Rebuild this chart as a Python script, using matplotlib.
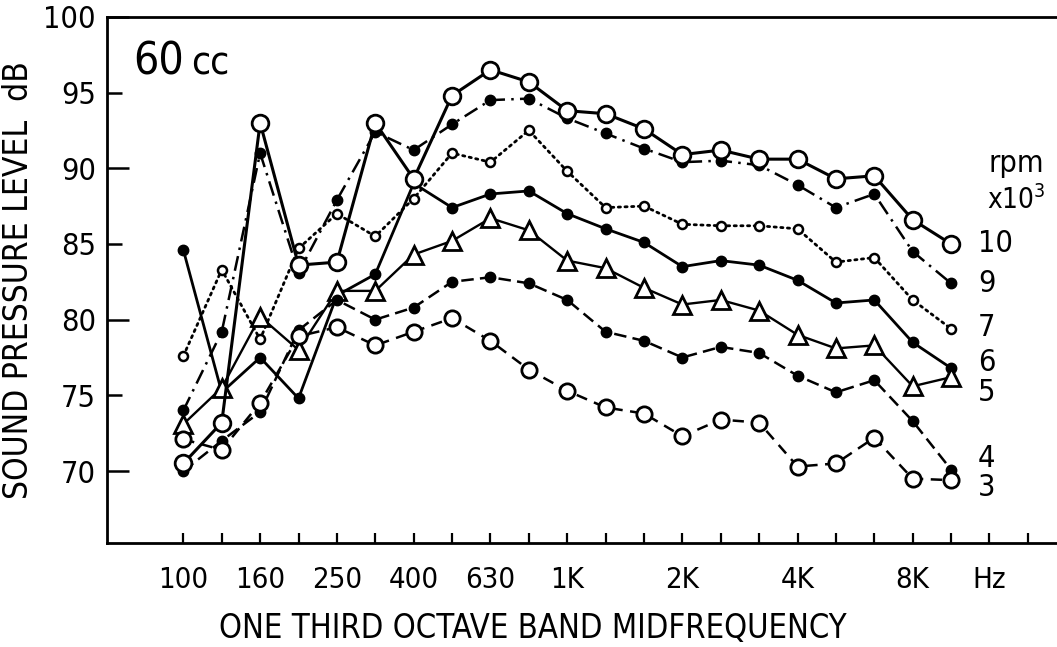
import numpy as np
import matplotlib
matplotlib.use("Agg")
import matplotlib.pyplot as plt

plt.rcParams['font.family'] = ['DejaVu Sans']
plt.rcParams['font.stretch'] = 'condensed'

# one third octave bands, 100 Hz .. 10 kHz
freqs = [100, 125, 160, 200, 250, 315, 400, 500, 630, 800, 1000,
         1250, 1600, 2000, 2500, 3150, 4000, 5000, 6300, 8000, 10000]
x = np.arange(len(freqs))

# sound pressure level (dB) per rpm x 10^3
spl_10 = [70.5, 73.2, 93.0, 83.6, 83.8, 93.0, 89.3, 94.8, 96.5, 95.7, 93.8,
          93.6, 92.6, 90.9, 91.2, 90.6, 90.6, 89.3, 89.5, 86.6, 85.0]
spl_9 = [74.0, 79.2, 91.0, 83.1, 87.9, 92.4, 91.2, 92.9, 94.5, 94.6, 93.3,
         92.3, 91.3, 90.4, 90.5, 90.2, 88.9, 87.4, 88.3, 84.5, 82.4]
spl_7 = [77.6, 83.3, 78.7, 84.7, 87.0, 85.5, 88.0, 91.0, 90.4, 92.5, 89.8,
         87.4, 87.5, 86.3, 86.2, 86.2, 86.0, 83.8, 84.1, 81.3, 79.4]
spl_6 = [84.6, 75.2, 77.5, 74.8, 81.6, 83.0, 89.0, 87.4, 88.3, 88.5, 87.0,
         86.0, 85.1, 83.5, 83.9, 83.6, 82.6, 81.1, 81.3, 78.5, 76.8]
spl_5 = [73.1, 75.5, 80.2, 78.0, 81.9, 81.9, 84.3, 85.2, 86.7, 85.9, 83.9,
         83.4, 82.1, 81.0, 81.3, 80.6, 79.0, 78.1, 78.3, 75.6, 76.2]
spl_4 = [70.0, 72.0, 73.9, 79.3, 81.3, 80.0, 80.8, 82.5, 82.8, 82.4, 81.3,
         79.2, 78.6, 77.5, 78.2, 77.8, 76.3, 75.2, 76.0, 73.3, 70.1]
spl_3 = [72.1, 71.4, 74.5, 78.9, 79.5, 78.3, 79.2, 80.1, 78.6, 76.7, 75.3,
         74.2, 73.8, 72.3, 73.4, 73.2, 70.3, 70.5, 72.2, 69.5, 69.4]

rpm_labels = ["10", "9", "7", "6", "5", "4", "3"]
rpm_label_y = [85.0, 82.4, 79.5, 77.2, 75.2, 70.8, 68.9]

tick_pos = [0, 2, 4, 6, 8, 10, 13, 16, 19, 21]
tick_lab = ["100", "160", "250", "400", "630", "1K", "2K", "4K", "8K", "Hz"]

fig = plt.figure(figsize=(10.57, 6.47), dpi=100)
ax = fig.add_axes([0.1012, 0.1603, 0.8988, 0.8137])

k = 'black'
ax.plot(x, spl_10, '-', color=k, lw=2.2, marker='o', ms=12, mfc='white', mew=2.0, zorder=5)
ax.plot(x, spl_9, color=k, lw=1.8, ls=(0, (6, 2.5, 1, 2.5)), marker='o', ms=7.5, mfc=k, zorder=4)
ax.plot(x, spl_7, color=k, lw=2.0, ls=(0, (0.8, 1.6)), dash_capstyle='round',
        marker='o', ms=6.5, mfc='white', mew=1.8, zorder=4)
ax.plot(x, spl_6, '-', color=k, lw=2.0, marker='o', ms=7.5, mfc=k, zorder=4)
ax.plot(x, spl_5, '-', color=k, lw=1.7, marker='^', ms=13, mfc='white', mew=2.0, zorder=4)
ax.plot(x, spl_4, color=k, lw=1.8, ls=(0, (5, 2.5)), marker='o', ms=7.5, mfc=k, zorder=4)
ax.plot(x, spl_3, color=k, lw=1.8, ls=(0, (4.5, 3)), marker='o', ms=11, mfc='white', mew=2.0, zorder=4)

for lab, yy in zip(rpm_labels, rpm_label_y):
    ax.text(20.7, yy, lab, fontsize=22, ha='left', va='center')
ax.text(21.7, 90.3, "rpm", fontsize=22, ha='center', va='center')
ax.text(21.7, 87.9, r"x10$^3$", fontsize=20, ha='center', va='center')
ax.text(-1.3, 97.0, "60", fontsize=32, ha='left', va='center')
ax.text(0.2, 96.9, "cc", fontsize=28, ha='left', va='center')

ax.set_xlim(-1.99, 22.76)
ax.set_ylim(65.23, 100)

ax.set_xticks(np.arange(23))
ax.set_xticklabels([tick_lab[tick_pos.index(i)] if i in tick_pos else "" for i in range(23)])
ax.tick_params(axis='x', direction='in', length=7, width=1.6, pad=16, labelsize=21)

ax.set_yticks([70, 80, 90, 100])
ax.set_yticks([75, 85, 95], minor=True)
ax.set_yticklabels(["70", "80", "90", "100"])
ax.set_yticklabels(["75", "85", "95"], minor=True)
ax.tick_params(axis='y', which='major', direction='in', length=16, width=1.8, pad=8, labelsize=22)
ax.tick_params(axis='y', which='minor', direction='in', length=11, width=1.8, pad=8, labelsize=22)

for s in ['left', 'bottom', 'top']:
    ax.spines[s].set_linewidth(2.0)
ax.spines['right'].set_visible(False)

ax.set_xlabel("ONE THIRD OCTAVE BAND MIDFREQUENCY", fontsize=23.5)
ax.xaxis.set_label_coords(0.448, -0.13)
ax.set_ylabel("SOUND PRESSURE LEVEL  dB", fontsize=24)
ax.yaxis.set_label_coords(-0.076, 0.5)

fig.savefig("out.png", dpi=100)
plt.close()
